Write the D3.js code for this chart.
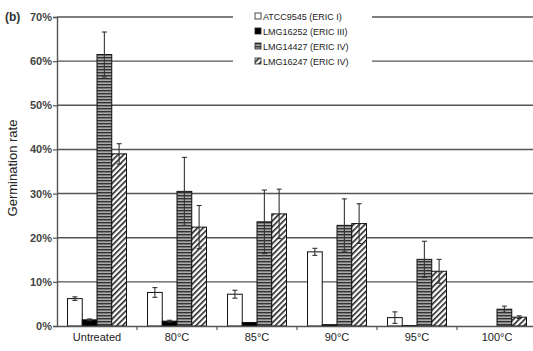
<!DOCTYPE html>
<html>
<head>
<meta charset="utf-8">
<script src="https://cdn.jsdelivr.net/npm/d3@7"></script>
<style>
  body { margin: 0; background: #fff; }
  svg { display: block; font-family: "Liberation Sans", Arial, sans-serif; }
</style>
</head>
<body>
<svg id="chart"></svg>
<script>
// data (germination rate, %)
var categories = ["Untreated", "80°C", "85°C", "90°C", "95°C", "100°C"];
var strains = ["ATCC9545 (ERIC I)", "LMG16252 (ERIC III)", "LMG14427 (ERIC IV)", "LMG16247 (ERIC IV)"];

var atcc9545 = [6.2, 7.6, 7.2, 16.8, 1.9, 0];
var lmg16252 = [1.4, 1.1, 0.8, 0.3, 0.1, 0];
var lmg14427 = [61.5, 30.5, 23.6, 22.8, 15.1, 3.8];
var lmg16247 = [39.0, 22.4, 25.4, 23.2, 12.4, 2.0];

var atcc9545Err = [0.4, 1.1, 0.9, 0.8, 1.3, 0];
var lmg16252Err = [0.2, 0.2, 0, 0, 0, 0];
var lmg14427Err = [5.1, 7.7, 7.2, 6.0, 4.1, 0.7];
var lmg16247Err = [2.3, 4.9, 5.6, 4.5, 2.7, 0.3];

var yTicks = [0, 10, 20, 30, 40, 50, 60, 70];

var w = 533, h = 351;
var svg = d3.select("#chart").attr("width", w).attr("height", h);

var mLeft = 57, mRight = 537, mTop = 17, mBottom = 326;

var x = d3.scaleBand().domain(categories).range([mLeft, mRight]).padding(0);
var xs = d3.scaleBand().domain(strains).range([10.5, 69.5]).padding(0);
var y = d3.scaleLinear().domain([0, 70]).range([mBottom, mTop]);

// patterns
var defs = svg.append("defs");
var hp = defs.append("pattern").attr("id", "hstripe")
    .attr("patternUnits", "userSpaceOnUse").attr("width", 6).attr("height", 3);
hp.append("rect").attr("width", 6).attr("height", 3).attr("fill", "#aaa");
hp.append("rect").attr("y", 0).attr("width", 6).attr("height", 1.4).attr("fill", "#333");

var dp = defs.append("pattern").attr("id", "dstripe")
    .attr("patternUnits", "userSpaceOnUse").attr("width", 4).attr("height", 4)
    .attr("patternTransform", "rotate(45)");
dp.append("rect").attr("width", 4).attr("height", 4).attr("fill", "#fff");
dp.append("rect").attr("width", 1.6).attr("height", 4).attr("fill", "#222");

var fills = ["#fff", "#000", "url(#hstripe)", "url(#dstripe)"];

// gridlines
svg.append("g").selectAll("line")
    .data(yTicks.filter(function(d) { return d > 0; }))
    .enter().append("line")
    .attr("x1", mLeft).attr("x2", mRight)
    .attr("y1", function(d) { return y(d); })
    .attr("y2", function(d) { return y(d); })
    .attr("stroke", "#555").attr("stroke-width", 1.4);

// bars
var series = [
    { name: strains[0], vals: atcc9545, errs: atcc9545Err },
    { name: strains[1], vals: lmg16252, errs: lmg16252Err },
    { name: strains[2], vals: lmg14427, errs: lmg14427Err },
    { name: strains[3], vals: lmg16247, errs: lmg16247Err }
];

var rows = [];
series.forEach(function(s, si) {
    categories.forEach(function(c, ci) {
        rows.push({ cat: c, strain: s.name, si: si, v: s.vals[ci], e: s.errs[ci] });
    });
});

var bars = svg.append("g");
bars.selectAll("rect")
    .data(rows.filter(function(d) { return d.v > 0; }))
    .enter().append("rect")
    .attr("x", function(d) { return x(d.cat) + xs(d.strain); })
    .attr("width", xs.bandwidth())
    .attr("y", function(d) { return y(d.v); })
    .attr("height", function(d) { return y(0) - y(d.v); })
    .attr("fill", function(d) { return fills[d.si]; })
    .attr("stroke", "#111").attr("stroke-width", 1);

// error bars
function cx(d) { return x(d.cat) + xs(d.strain) + xs.bandwidth() / 2; }
var eb = svg.append("g").attr("stroke", "#333").attr("stroke-width", 1.1);
var errRows = rows.filter(function(d) { return d.e > 0; });
eb.selectAll("line.v").data(errRows).enter().append("line")
    .attr("class", "v")
    .attr("x1", cx).attr("x2", cx)
    .attr("y1", function(d) { return y(d.v + d.e); })
    .attr("y2", function(d) { return y(Math.max(0, d.v - d.e)); });
eb.selectAll("line.t").data(errRows).enter().append("line")
    .attr("class", "t")
    .attr("x1", function(d) { return cx(d) - 2.5; })
    .attr("x2", function(d) { return cx(d) + 2.5; })
    .attr("y1", function(d) { return y(d.v + d.e); })
    .attr("y2", function(d) { return y(d.v + d.e); });
eb.selectAll("line.b").data(errRows).enter().append("line")
    .attr("class", "b")
    .attr("x1", function(d) { return cx(d) - 2.5; })
    .attr("x2", function(d) { return cx(d) + 2.5; })
    .attr("y1", function(d) { return y(Math.max(0, d.v - d.e)); })
    .attr("y2", function(d) { return y(Math.max(0, d.v - d.e)); });

// y axis
var yAxis = svg.append("g")
    .attr("transform", "translate(" + mLeft + ",0)")
    .call(d3.axisLeft(y).tickValues(yTicks).tickSize(4).tickPadding(1)
        .tickFormat(function(d) { return d + "%"; }));
yAxis.select(".domain").attr("stroke", "#555").attr("stroke-width", 1.4);
yAxis.selectAll(".tick line").attr("stroke", "#555").attr("stroke-width", 1.2);
yAxis.selectAll("text").attr("font-size", 11).attr("font-weight", "bold")
    .attr("fill", "#444").attr("font-family", "Liberation Sans, Arial, sans-serif");

// x axis
var xAxis = svg.append("g")
    .attr("transform", "translate(0," + mBottom + ")")
    .call(d3.axisBottom(x).tickSize(0).tickPadding(7));
xAxis.select(".domain").attr("stroke", "#555").attr("stroke-width", 1.4);
xAxis.selectAll("text").attr("font-size", 11).attr("fill", "#222")
    .attr("font-family", "Liberation Sans, Arial, sans-serif");
// tick marks between categories
xAxis.selectAll("line.sep")
    .data(categories.slice(1))
    .enter().append("line").attr("class", "sep")
    .attr("x1", function(d) { return x(d); }).attr("x2", function(d) { return x(d); })
    .attr("y1", 0).attr("y2", 4)
    .attr("stroke", "#555").attr("stroke-width", 1.2);

// y title
svg.append("text")
    .attr("transform", "translate(17," + 168 + ") rotate(-90)")
    .attr("text-anchor", "middle")
    .attr("font-size", 13).attr("fill", "#222")
    .text("Germination rate");

// panel label
svg.append("text").attr("x", 5).attr("y", 21)
    .attr("font-size", 12).attr("font-weight", "bold").attr("fill", "#333")
    .text("(b)");

// legend
var lg = svg.append("g").attr("transform", "translate(233,7)");
lg.append("rect").attr("x", 0).attr("y", 0).attr("width", 139).attr("height", 62)
    .attr("fill", "#fff");
var li = lg.selectAll("g.item").data(strains).enter().append("g")
    .attr("class", "item")
    .attr("transform", function(d, i) { return "translate(22," + (9 + i * 15) + ")"; });
li.append("rect").attr("x", 0).attr("y", -3).attr("width", 6).attr("height", 6)
    .attr("fill", function(d, i) { return fills[i]; })
    .attr("stroke", "#222").attr("stroke-width", 0.8);
li.append("text").attr("x", 8).attr("y", 3.5)
    .attr("font-size", 9).attr("fill", "#222")
    .text(function(d) { return d; });
</script>
</body>
</html>
